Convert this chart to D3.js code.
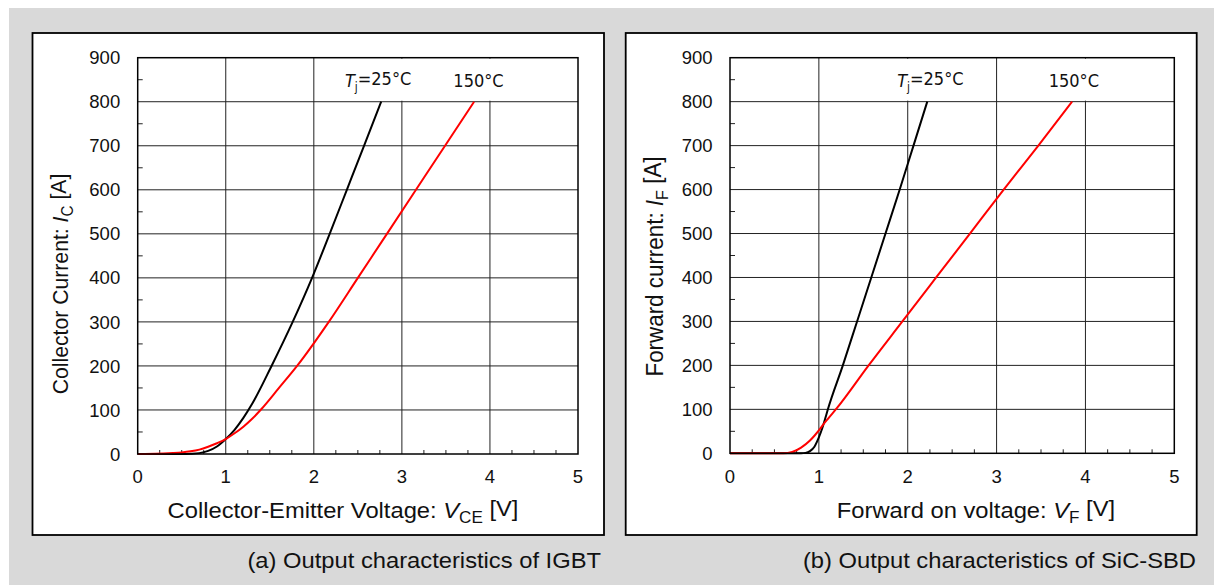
<!DOCTYPE html>
<html>
<head>
<meta charset="utf-8">
<script src="https://cdn.jsdelivr.net/npm/d3@7"></script>
<style>
  html, body { margin: 0; padding: 0; background: #fff; }
  svg { display: block; font-family: "Liberation Sans", Arial, sans-serif; }
</style>
</head>
<body>
<svg id="chart" width="1214" height="585"></svg>
<script>
// 讀圖數值 — [V, A]
const xTicks = [0, 1, 2, 3, 4, 5];
const yTicks = [0, 100, 200, 300, 400, 500, 600, 700, 800, 900];

const igbt25 = [[0,0],[0.5,0],[0.6,0.5],[0.7,2],[0.8,7],[0.9,17],[1.0,34],[1.1,55],[1.2,82],[1.3,114],
  [1.52,200],[1.76,300],[1.98,400],[2.18,500],[2.375,600],[2.57,700],[2.765,800]];
const igbt150 = [[0,0],[0.2,0.3],[0.4,2],[0.5,3.5],[0.6,6],[0.7,10],[0.8,16.5],[0.9,24.5],[1.0,34],[1.1,47],
  [1.2,62],[1.3,80],[1.4,101],[1.6,149],[1.81,200],[2.17,300],[2.5,400],[2.83,500],[3.16,600],
  [3.49,700],[3.82,800]];
const sbd25 = [[0,0],[0.8,0],[0.85,1],[0.9,5],[0.95,15],[1.0,36],[1.04,58],[1.08,85],[1.1,99],[1.27,200],
  [1.43,300],[1.59,400],[1.75,500],[1.91,600],[2.065,700],[2.22,800]];
const sbd150 = [[0,0],[0.6,0],[0.7,3],[0.8,13],[0.9,29],[0.95,40],[1.0,52],[1.04,63],[1.1,78],[1.2,102],
  [1.56,200],[1.94,300],[2.32,400],[2.7,500],[3.08,600],[3.47,700],[3.85,800]];

const panels = [
  {
    box: [32.5, 33, 571.5, 502], plot: [137.7, 57.7, 440.3, 396.3],
    curves: [igbt25, igbt150],
    yTitle: [['Collector Current: ', 'n'], ['I', 'i'], ['C', 's'], [' [A]', 'n']],
    yTitlePos: [68, 284], yTitleSize: 21.2,
    xTitle: [['Collector-Emitter Voltage:  ', 'n'], ['V', 'i'], ['CE', 's'], [' [V]', 'n']], xTitleX: 343,
    labels: [{ v: 2.73, t: 'tj', r: [2.28, 3.17] }, { v: 3.87, t: '150°C', r: [3.55, 4.2] }],
    caption: '(a) Output characteristics of IGBT', capX: 601
  },
  {
    box: [625.7, 33, 571, 502], plot: [730, 57.7, 444.3, 395.6],
    curves: [sbd25, sbd150],
    yTitle: [['Forward current: ', 'n'], ['I', 'i'], ['F', 's'], [' [A]', 'n']],
    yTitlePos: [663, 266.5], yTitleSize: 22.4,
    xTitle: [['Forward on voltage:  ', 'n'], ['V', 'i'], ['F', 's'], [' [V]', 'n']], xTitleX: 976,
    labels: [{ v: 2.255, t: 'tj', r: [1.86, 2.66] }, { v: 3.87, t: '150°C', r: [3.55, 4.2] }],
    caption: '(b) Output characteristics of SiC-SBD', capX: 1196
  }
];

const SX = 1.08; // 原圖文字水平略拉寬

const svg = d3.select('#chart');
svg.append('rect').attr('x', 9).attr('y', 8).attr('width', 1205).attr('height', 577).attr('fill', '#d9d9d9');

function addRich(sel, parts) {
  parts.forEach(([txt, kind]) => {
    const ts = sel.append('tspan').text(txt);
    if (kind === 'i') ts.attr('font-style', 'italic');
    if (kind === 's') ts.attr('font-size', '0.72em').attr('dy', '0.3em');
    if (kind === 'n' && txt.startsWith(' [')) ts.attr('dy', '-0.3em');
  });
}

// 文字以 (x,y) 為錨點，水平拉寬
function stretched(g, x, y, rot) {
  return g.append('text')
    .attr('transform', `translate(${x},${y}) scale(${SX},1)` + (rot ? ` rotate(${rot})` : ''));
}

panels.forEach((p) => {
  const g = svg.append('g');
  g.append('rect')
    .attr('x', p.box[0]).attr('y', p.box[1]).attr('width', p.box[2]).attr('height', p.box[3])
    .attr('fill', '#fff').attr('stroke', '#000').attr('stroke-width', 1.8);

  const [px, py, pw, ph] = p.plot;
  const x = d3.scaleLinear().domain([0, 5]).range([px, px + pw]);
  const y = d3.scaleLinear().domain([0, 900]).range([py + ph, py]);

  // 格線
  g.append('g').selectAll('line').data(yTicks.slice(1, -1)).join('line')
    .attr('x1', px).attr('x2', px + pw).attr('y1', (d) => y(d)).attr('y2', (d) => y(d))
    .attr('stroke', '#222').attr('stroke-width', 1);
  g.append('g').selectAll('line').data(xTicks.slice(1, -1)).join('line')
    .attr('y1', py).attr('y2', py + ph).attr('x1', (d) => x(d)).attr('x2', (d) => x(d))
    .attr('stroke', '#222').attr('stroke-width', 1);

  // 小刻度（朝內）
  g.append('g').selectAll('line').data(d3.range(0.25, 5, 0.25).filter((v) => v % 1 !== 0)).join('line')
    .attr('x1', (d) => x(d)).attr('x2', (d) => x(d)).attr('y1', py + ph).attr('y2', py + ph - 4)
    .attr('stroke', '#222');
  g.append('g').selectAll('line').data(d3.range(50, 900, 100)).join('line')
    .attr('y1', (d) => y(d)).attr('y2', (d) => y(d)).attr('x1', px).attr('x2', px + 5)
    .attr('stroke', '#222');

  // 溫度標籤（白底遮住格線）
  p.labels.forEach((lb) => {
    g.append('rect')
      .attr('x', x(lb.r[0])).attr('width', x(lb.r[1]) - x(lb.r[0]))
      .attr('y', y(900) + 1).attr('height', y(800) - y(900) - 2)
      .attr('fill', '#fff');
    const t = g.append('text').attr('x', x(lb.v)).attr('y', 87.3)
      .attr('text-anchor', 'middle').attr('font-size', 18).attr('fill', '#111')
      .attr('font-family', '"DejaVu Sans Condensed", "Liberation Sans", sans-serif');
    if (lb.t === 'tj') {
      t.append('tspan').text('T').attr('font-style', 'italic');
      t.append('tspan').text('j').attr('font-size', '0.65em').attr('dy', '0.35em');
      t.append('tspan').text('=25°C').attr('dy', '-0.35em');
    } else {
      t.text(lb.t);
    }
  });

  // 曲線
  const line = d3.line().x((d) => x(d[0])).y((d) => y(d[1])).curve(d3.curveMonotoneX);
  const colors = ['#000', '#ff0000'];
  p.curves.forEach((c, i) => {
    g.append('path').datum(c).attr('d', line)
      .attr('fill', 'none').attr('stroke', colors[i]).attr('stroke-width', 2);
  });

  // 外框
  g.append('rect').attr('x', px).attr('y', py).attr('width', pw).attr('height', ph)
    .attr('fill', 'none').attr('stroke', '#000').attr('stroke-width', 1.5);

  // 刻度文字
  g.append('g').selectAll('text').data(xTicks).join('text')
    .attr('x', (d) => x(d)).attr('y', py + ph + 29.3).attr('text-anchor', 'middle')
    .attr('font-size', 18.5).attr('fill', '#111').text((d) => d);
  g.append('g').selectAll('text').data(yTicks).join('text')
    .attr('x', px - 17.5).attr('y', (d) => y(d) + 6.6).attr('text-anchor', 'end')
    .attr('font-size', 18.5).attr('fill', '#111').text((d) => d);

  // 軸標題
  const xt = stretched(g, p.xTitleX, 518.3).attr('text-anchor', 'middle').attr('font-size', 22).attr('fill', '#111');
  addRich(xt, p.xTitle);
  const yt = stretched(g, p.yTitlePos[0], p.yTitlePos[1], -90)
    .attr('text-anchor', 'middle').attr('font-size', p.yTitleSize).attr('fill', '#111');
  addRich(yt, p.yTitle);

  stretched(svg, p.capX, 568).attr('text-anchor', 'end')
    .attr('font-size', 22).attr('fill', '#111').text(p.caption);
});
</script>
</body>
</html>
